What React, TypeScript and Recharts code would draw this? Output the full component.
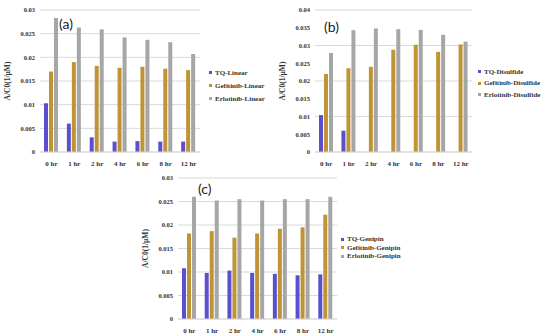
import { BarChart, Bar, XAxis, YAxis, CartesianGrid, Legend } from "recharts";

const times = ["0 hr", "1 hr", "2 hr", "4 hr", "6 hr", "8 hr", "12 hr"];

const tqLinear = [0.0103, 0.006, 0.0031, 0.0022, 0.0023, 0.0022, 0.0022];
const gefLinear = [0.017, 0.019, 0.0182, 0.0178, 0.018, 0.0176, 0.0173];
const erlLinear = [0.0283, 0.0263, 0.0259, 0.0242, 0.0237, 0.0232, 0.0207];

const tqDisulfide = [0.0104, 0.006, 0, 0, 0, 0, 0];
const gefDisulfide = [0.022, 0.0236, 0.024, 0.0288, 0.0302, 0.0282, 0.0303];
const erlDisulfide = [0.0279, 0.0343, 0.0348, 0.0346, 0.0344, 0.033, 0.0311];

const tqGenipin = [0.0108, 0.0098, 0.0103, 0.0098, 0.0096, 0.0093, 0.0095];
const gefGenipin = [0.0182, 0.0187, 0.0173, 0.0182, 0.0192, 0.0195, 0.0222];
const erlGenipin = [0.026, 0.0252, 0.0255, 0.0252, 0.0255, 0.0255, 0.026];

const ticks03 = [0, 0.005, 0.01, 0.015, 0.02, 0.025, 0.03];
const ticks04 = [0, 0.005, 0.01, 0.015, 0.02, 0.025, 0.03, 0.035, 0.04];

const COLORS = ["#5b4fd0", "#bf9435", "#a6a6a6"];
const serif = "'Liberation Serif', 'DejaVu Serif', serif";

interface PanelProps {
  tag: string;
  names: string[];
  tq: number[];
  gef: number[];
  erl: number[];
  ticks: number[];
  left: number;
  top: number;
  width: number;
  height: number;
  legendX: number;
  legendY: number;
  rowGap: number;
  tagX: number;
  tagY: number;
}

function Panel(p: PanelProps) {
  const data = times.map((t, i) => ({ time: t, a: p.tq[i], b: p.gef[i], c: p.erl[i] }));
  const keys = ["a", "b", "c"];
  return (
    <div style={{ position: "absolute", left: p.left, top: p.top }}>
      <BarChart
        width={p.width}
        height={p.height}
        data={data}
        margin={{ top: 10, right: 3, bottom: 0, left: 0 }}
        barSize={4}
        barGap={1}
      >
        <CartesianGrid vertical={false} stroke="#d9d9d9" />
        <XAxis
          dataKey="time"
          height={18}
          tickLine={false}
          axisLine={{ stroke: "#d9d9d9" }}
          tick={{ fontSize: 7, fontFamily: serif, fontWeight: "bold", fill: "#333" }}
          tickMargin={3}
          interval={0}
        />
        <YAxis
          width={40}
          domain={[0, p.ticks[p.ticks.length - 1]]}
          ticks={p.ticks}
          tickLine={false}
          axisLine={false}
          tickSize={0}
          tickMargin={5}
          tick={{ fontSize: 6.5, fontFamily: serif, fontWeight: "bold", fill: "#333" }}
          label={{
            value: "A/C0(1/µM)",
            angle: -90,
            position: "insideLeft",
            offset: 7,
            style: { fontSize: 7.5, fontFamily: serif, fontWeight: "bold", fill: "#333", textAnchor: "middle" },
          }}
        />
        {keys.map((k, i) => (
          <Bar key={k} dataKey={k} name={p.names[i]} fill={COLORS[i]} isAnimationActive={false} />
        ))}
        <Legend
          layout="vertical"
          align="center"
          verticalAlign="middle"
          wrapperStyle={{ left: p.legendX, top: p.legendY, width: 80 }}
          content={() => (
            <div>
              {p.names.map((n, i) => (
                <div
                  key={n}
                  style={{
                    display: "flex",
                    alignItems: "center",
                    height: p.rowGap,
                    fontFamily: serif,
                    fontWeight: "bold",
                    fontSize: 7,
                    color: "#333",
                    whiteSpace: "nowrap",
                  }}
                >
                  <span style={{ width: 3, height: 3, background: COLORS[i], marginRight: 3 }} />
                  {n}
                </div>
              ))}
            </div>
          )}
        />
      </BarChart>
      <div
        style={{
          position: "absolute",
          left: p.tagX,
          top: p.tagY,
          fontFamily: "Lato, 'Liberation Sans', sans-serif",
          fontSize: 14,
          color: "#222",
        }}
      >
        {p.tag}
      </div>
    </div>
  );
}

export default function App() {
  return (
    <div style={{ position: "absolute", left: 0, top: 0, width: 550, height: 335, background: "#fff" }}>
      <Panel
        tag="(a)"
        names={["TQ-Linear", "Gefitinib-Linear", "Erlotinib-Linear"]}
        tq={tqLinear}
        gef={gefLinear}
        erl={erlLinear}
        ticks={ticks03}
        left={0}
        top={0}
        width={203}
        height={170}
        legendX={209}
        legendY={66}
        rowGap={13}
        tagX={59}
        tagY={15}
      />
      <Panel
        tag="(b)"
        names={["TQ-Disulfide", "Gefitinib-Disulfide", "Erlotinib-Disulfide"]}
        tq={tqDisulfide}
        gef={gefDisulfide}
        erl={erlDisulfide}
        ticks={ticks04}
        left={275}
        top={0}
        width={200}
        height={170}
        legendX={203}
        legendY={66}
        rowGap={11.5}
        tagX={49}
        tagY={18}
      />
      <Panel
        tag="(c)"
        names={["TQ-Genipin", "Gefitinib-Genipin", "Erlotinib-Genipin"]}
        tq={tqGenipin}
        gef={gefGenipin}
        erl={erlGenipin}
        ticks={ticks03}
        left={138}
        top={168}
        width={202}
        height={169}
        legendX={203}
        legendY={67}
        rowGap={8.5}
        tagX={60}
        tagY={12}
      />
    </div>
  );
}
